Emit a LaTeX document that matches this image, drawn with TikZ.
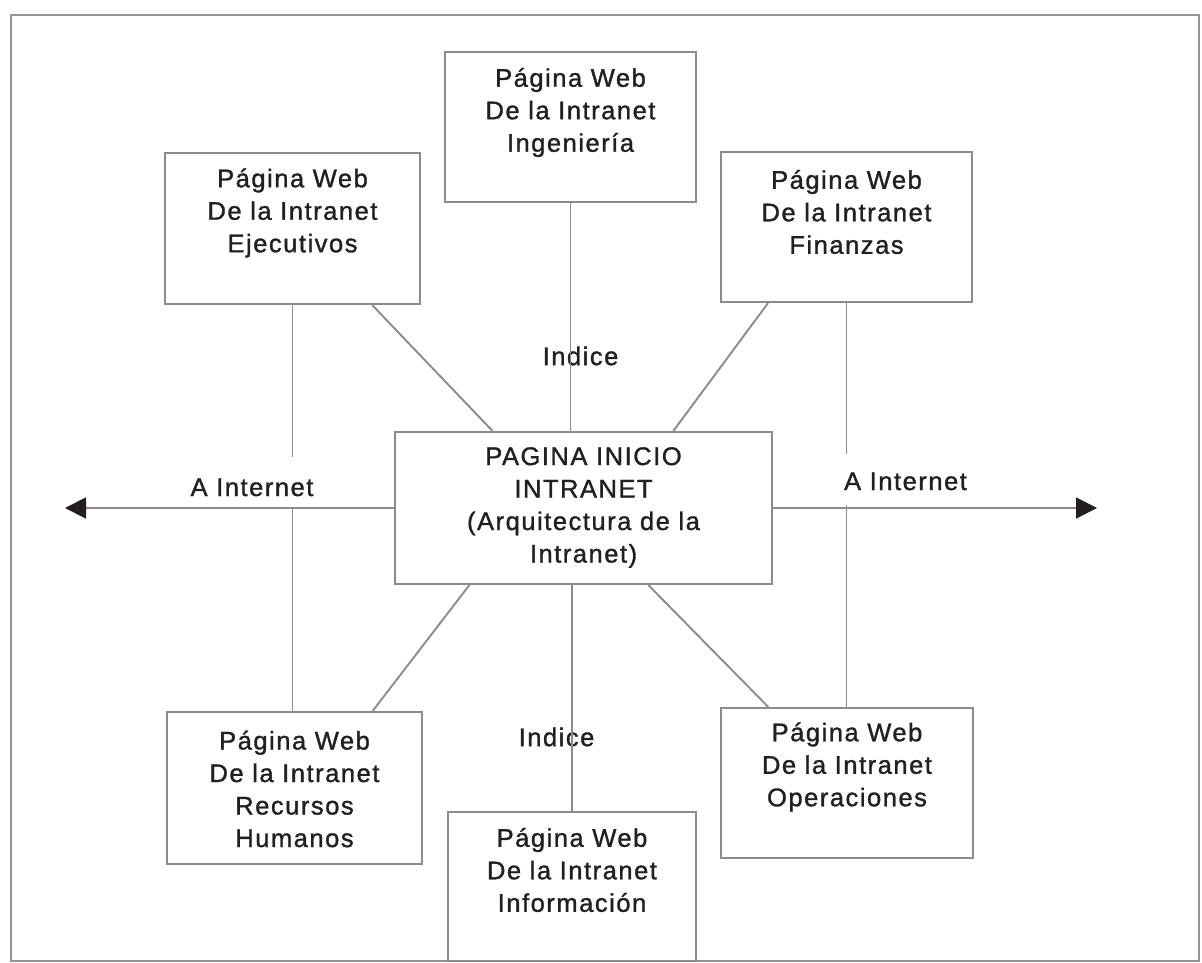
\documentclass[tikz,border=0pt]{standalone}
\usepackage{fontspec}
\setmainfont{Liberation Sans}[LetterSpace=6,FakeBold=1.2]
\usetikzlibrary{calc,arrows.meta}
\definecolor{ink}{HTML}{231F20}
\tikzset{
  pagebox/.style={draw=black!45, line width=2.2pt, rectangle, inner sep=0pt},
  pagetext/.style={text=ink, align=center, inner sep=0pt, font=\fontsize{25.5}{32.5}\selectfont},
  conn/.style={draw=black!45, line width=1.9pt},
  inetlabel/.style={text=ink, fill=white, inner xsep=4pt, inner ysep=0pt, font=\fontsize{25.5}{32.5}\selectfont},
  idxlabel/.style={text=ink, inner sep=0pt, font=\fontsize{25.5}{32.5}\selectfont},
  outarrow/.style={draw=black!45, line width=1.9pt, -{Triangle[length=21pt,width=21pt,color=ink]}}
}
\begin{document}
\begin{tikzpicture}[x=1pt,y=-1pt]
\useasboundingbox (0,0) rectangle (1202,963);
\fill[white] (0,0) rectangle (1202,963);
\draw[black!42, line width=2.5pt] (11,15) rectangle (1199,961);

% boxes
\node[pagebox, minimum width=251pt, minimum height=150pt] (ing) at (570.5,127) {};
\node[pagebox, minimum width=255pt, minimum height=151pt] (eje) at (292.5,228.5) {};
\node[pagebox, minimum width=251pt, minimum height=150pt] (fin) at (846.5,227) {};
\node[pagebox, minimum width=377pt, minimum height=152pt] (ctr) at (583.5,508) {};
\node[pagebox, minimum width=255pt, minimum height=152pt] (rh) at (294.5,788) {};
\node[pagebox, minimum width=252pt, minimum height=150pt] (ope) at (847,783) {};
\node[pagebox, minimum width=248pt, minimum height=149pt] (inf) at (572,886.5) {};

% texts
\node[pagetext] (ingT) at (570.5,112.5) {Página Web\\De la Intranet\\Ingeniería};
\node[pagetext] (ejeT) at (292.5,213) {Página Web\\De la Intranet\\Ejecutivos};
\node[pagetext] (finT) at (846.5,212) {Página Web\\De la Intranet\\Finanzas};
\node[pagetext] (ctrT) at (583.5,507.5) {PAGINA INICIO\\INTRANET\\(Arquitectura de la\\Intranet)};
\node[pagetext] (rhT) at (294.5,789) {Página Web\\De la Intranet\\Recursos\\Humanos};
\node[pagetext] (opeT) at (847,767) {Página Web\\De la Intranet\\Operaciones};
\node[pagetext] (infT) at (572,870) {Página Web\\De la Intranet\\Información};

% index labels
\node[idxlabel] (idxTop) at (580.5,356) {Indice};
\node[idxlabel] (idxBot) at (556.5,737) {Indice};

% connectors
\draw[conn] (ing.south) -- (ing.south |- ctr.north);
\draw[conn] (inf.north) -- (inf.north |- ctr.south);
\draw[conn] ($(eje.south west)!0.81!(eje.south east)$) -- ($(ctr.north west)!0.26!(ctr.north east)$);
\draw[conn] ($(fin.south west)!0.19!(fin.south east)$) -- ($(ctr.north west)!0.737!(ctr.north east)$);
\draw[conn] ($(ctr.south west)!0.199!(ctr.south east)$) -- ($(rh.north west)!0.804!(rh.north east)$);
\draw[conn] ($(ctr.south west)!0.671!(ctr.south east)$) -- ($(ope.north west)!0.19!(ope.north east)$);
\draw[conn] (eje.south) -- (eje.south |- rh.north);
\draw[conn] (fin.south) -- (fin.south |- ope.north);

% internet labels (cover the vertical lines)
\node[inetlabel, anchor=base, text height=39pt, text depth=13pt] (inetL) at (252,496) {A Internet};
\node[inetlabel, anchor=base, text height=36pt, text depth=15pt] (inetR) at (905.5,490) {A Internet};

% arrows to the internet
\coordinate (leftEnd) at (65,508);
\coordinate (rightEnd) at (1097,508);
\draw[outarrow] (ctr.west) -- (leftEnd);
\draw[outarrow] (ctr.east) -- (rightEnd);
\end{tikzpicture}
\end{document}
